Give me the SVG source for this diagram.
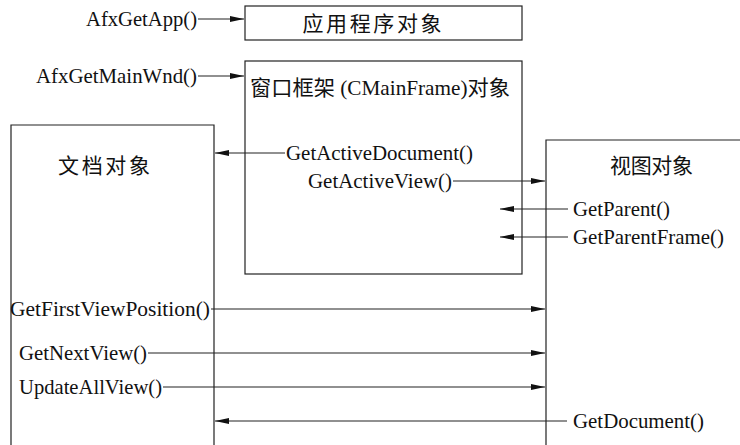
<svg xmlns="http://www.w3.org/2000/svg" width="740" height="445" viewBox="0 0 740 445">
  <style>
    .box { fill: none; stroke: #222; stroke-width: 1.2; }
    .lbl { font-family: "Liberation Serif", "Times New Roman", serif; font-size: 21px; fill: #111; }
    .cjk { font-family: "Liberation Serif", "Noto Sans CJK SC", serif; font-size: 21px; fill: #111; }
    .link { stroke: #222; stroke-width: 1.2; fill: none; marker-end: url(#arrow); }
  </style>
  <defs>
    <marker id="arrow" viewBox="0 0 14 6" refX="14" refY="3" markerWidth="14" markerHeight="6" markerUnits="userSpaceOnUse" orient="auto">
      <path d="M0,0 L14,3 L0,6 Z" fill="#111"/>
    </marker>
  </defs>
  <rect width="740" height="445" fill="#fff"/>

  <g id="app">
    <rect class="box" x="245" y="6" width="277" height="34"/>
    <text class="cjk" x="372" y="31" text-anchor="middle" textLength="139">应用程序对象</text>
  </g>

  <g id="mainframe">
    <rect class="box" x="245" y="61" width="277" height="213"/>
    <text class="cjk" x="250" y="95" textLength="260" lengthAdjust="spacingAndGlyphs">窗口框架 (CMainFrame)对象</text>
  </g>

  <g id="document">
    <path class="box" d="M11,446 V125 H214 V446"/>
    <text class="cjk" x="58" y="173" textLength="92">文档对象</text>
  </g>

  <g id="view">
    <path class="box" d="M546,446 V140 H741"/>
    <text class="cjk" x="610" y="173" textLength="83">视图对象</text>
  </g>

  <g id="labels">
    <text class="lbl" x="86" y="26" textLength="111" lengthAdjust="spacingAndGlyphs">AfxGetApp()</text>
    <text class="lbl" x="36" y="83" textLength="161" lengthAdjust="spacingAndGlyphs">AfxGetMainWnd()</text>
    <text class="lbl" x="286" y="160" textLength="187" lengthAdjust="spacingAndGlyphs">GetActiveDocument()</text>
    <text class="lbl" x="308" y="188" textLength="144" lengthAdjust="spacingAndGlyphs">GetActiveView()</text>
    <text class="lbl" x="573" y="216" textLength="97" lengthAdjust="spacingAndGlyphs">GetParent()</text>
    <text class="lbl" x="573" y="244" textLength="151" lengthAdjust="spacingAndGlyphs">GetParentFrame()</text>
    <text class="lbl" x="10" y="316" textLength="200" lengthAdjust="spacingAndGlyphs">GetFirstViewPosition()</text>
    <text class="lbl" x="19" y="360" textLength="128" lengthAdjust="spacingAndGlyphs">GetNextView()</text>
    <text class="lbl" x="19" y="394" textLength="143" lengthAdjust="spacingAndGlyphs">UpdateAllView()</text>
    <text class="lbl" x="573" y="428" textLength="131" lengthAdjust="spacingAndGlyphs">GetDocument()</text>
  </g>

  <g id="connectors">
    <line class="link" x1="198" y1="19" x2="244" y2="19"/>
    <line class="link" x1="198" y1="76" x2="244" y2="76"/>
    <line class="link" x1="285" y1="153" x2="215" y2="153"/>
    <line class="link" x1="453" y1="181" x2="545" y2="181"/>
    <line class="link" x1="568" y1="209" x2="500" y2="209"/>
    <line class="link" x1="568" y1="237" x2="500" y2="237"/>
    <line class="link" x1="211" y1="309" x2="545" y2="309"/>
    <line class="link" x1="148" y1="353" x2="545" y2="353"/>
    <line class="link" x1="163" y1="387" x2="545" y2="387"/>
    <line class="link" x1="567" y1="421" x2="215" y2="421"/>
  </g>
</svg>
